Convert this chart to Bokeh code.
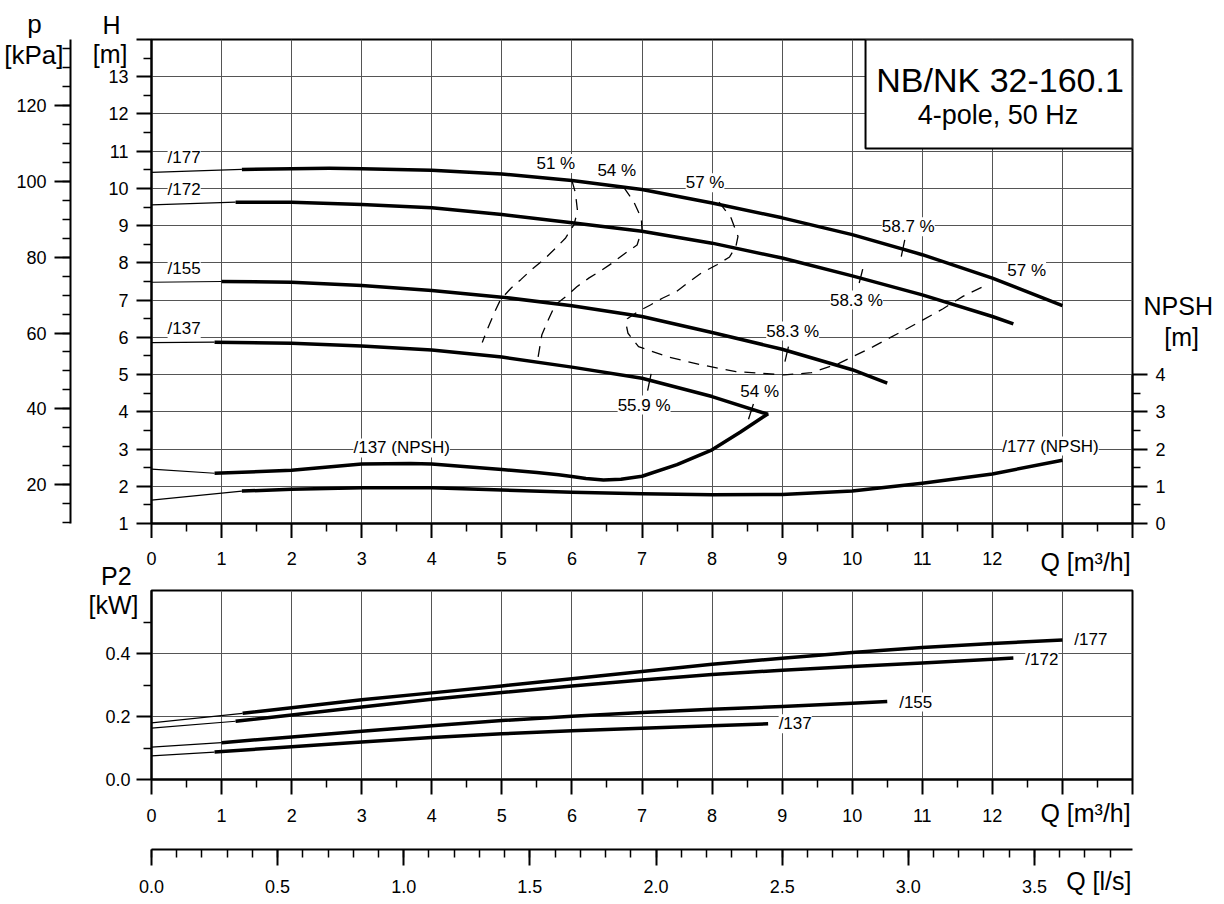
from bokeh.plotting import figure
from bokeh.models import (Range1d, LinearAxis, FixedTicker, ColumnDataSource,
                          LabelSet, Label, PrintfTickFormatter)
from bokeh.layouts import column
from bokeh.embed import file_html
from bokeh.resources import INLINE
from bokeh.core.properties import value

FONT = "Liberation Sans"
NB = "\u00a0"

# ---------------- data ----------------
q_major = list(range(0, 15))
q_minor = [i + 0.5 for i in range(14)]
q_labelled = list(range(0, 13))
h_major = list(range(1, 14))
h_minor = [i + 0.5 for i in range(1, 14)]
H_TOP = 14
KPA_TOP = 137.34
kpa_major = [20, 40, 60, 80, 100, 120]
kpa_minor = list(range(10, 140, 5))
npsh_major = [0, 1, 2, 3, 4]
npsh_minor = [0.5, 1.5, 2.5, 3.5]
P2_TOP = 0.6
p2_major = [0.0, 0.2, 0.4]
p2_minor = [0.1, 0.3, 0.5]
ls_major = [0.0, 0.5, 1.0, 1.5, 2.0, 2.5, 3.0, 3.5]
ls_minor = [i / 10 for i in range(0, 39)]

# Q-H curves (first point = thin extension start at Q=0)
qh177_q = [0, 1.29, 2, 2.54, 3, 4, 5, 6, 7, 8, 9, 10, 11, 12, 13]
qh177_h = [10.43, 10.51, 10.53, 10.54, 10.53, 10.49, 10.39, 10.21, 9.97, 9.61, 9.21, 8.76, 8.22, 7.59, 6.85]
qh172_q = [0, 1.2, 2, 3, 4, 5, 6, 7, 8, 9, 10, 11, 12, 12.3]
qh172_h = [9.56, 9.63, 9.63, 9.57, 9.48, 9.30, 9.08, 8.85, 8.53, 8.13, 7.65, 7.14, 6.56, 6.36]
qh155_q = [0, 1, 2, 3, 4, 5, 6, 7, 8, 9, 10, 10.5]
qh155_h = [7.48, 7.50, 7.48, 7.39, 7.26, 7.08, 6.85, 6.56, 6.13, 5.68, 5.13, 4.77]
qh137_q = [0, 0.9, 2, 3, 4, 5, 6, 7, 8, 8.8]
qh137_h = [5.86, 5.87, 5.84, 5.77, 5.66, 5.47, 5.20, 4.90, 4.41, 3.93]

# NPSH curves
npsh137_q = [0, 0.9, 2, 3, 3.7, 4, 5, 5.5, 5.81, 6.0, 6.2, 6.45, 6.7, 7.0, 7.5, 8, 8.4, 8.8]
npsh137_v = [1.46, 1.35, 1.43, 1.60, 1.61, 1.60, 1.45, 1.37, 1.31, 1.26, 1.21, 1.17, 1.19, 1.27, 1.58, 1.98, 2.45, 2.95]
npsh177_q = [0, 1.29, 2, 3, 4, 5, 6, 7, 8, 9, 10, 11, 12, 13]
npsh177_v = [0.63, 0.87, 0.92, 0.96, 0.96, 0.90, 0.84, 0.80, 0.77, 0.78, 0.87, 1.08, 1.33, 1.70]

# P2 curves
p177_q = [0, 1.3, 2, 3, 4, 5, 6, 7, 8, 9, 10, 11, 12, 13]
p177_v = [0.180, 0.210, 0.228, 0.253, 0.275, 0.297, 0.320, 0.343, 0.366, 0.385, 0.403, 0.419, 0.432, 0.443]
p172_q = [0, 1.2, 2, 3, 4, 5, 6, 7, 8, 9, 10, 11, 12, 12.3]
p172_v = [0.163, 0.185, 0.205, 0.230, 0.255, 0.276, 0.297, 0.316, 0.333, 0.347, 0.359, 0.370, 0.382, 0.386]
p155_q = [0, 1, 2, 3, 4, 5, 6, 7, 8, 9, 10, 10.5]
p155_v = [0.103, 0.117, 0.135, 0.153, 0.171, 0.187, 0.201, 0.213, 0.223, 0.232, 0.242, 0.248]
p137_q = [0, 0.9, 2, 3, 4, 5, 6, 7, 8, 8.8]
p137_v = [0.075, 0.087, 0.104, 0.119, 0.133, 0.145, 0.155, 0.163, 0.171, 0.177]

# efficiency iso-lines
eff51_q = [6.0, 6.05, 6.08, 6.03, 5.91, 5.77, 5.60, 5.43, 5.27, 5.13, 4.98, 4.89, 4.79, 4.72]
eff51_h = [10.21, 9.88, 9.39, 9.03, 8.67, 8.40, 8.09, 7.83, 7.55, 7.32, 7.01, 6.65, 6.20, 5.86]
eff54_q = [6.74, 6.88, 6.99, 7.0, 6.93, 6.79, 6.57, 6.43, 6.24, 6.07, 5.91, 5.76, 5.65, 5.57, 5.51]
eff54_h = [10.03, 9.65, 9.20, 8.89, 8.48, 8.30, 7.99, 7.81, 7.59, 7.36, 7.09, 6.87, 6.42, 6.06, 5.39]
eff57_q = [8.10, 8.27, 8.37, 8.34, 8.25, 8.07, 7.85, 7.68, 7.49, 7.29, 7.12, 6.95, 6.79, 6.77, 6.80,
           6.95, 7.36, 7.85, 8.34, 9.03, 9.42, 9.81, 10.30, 10.80, 11.29, 11.58, 11.92]
eff57_h = [9.63, 9.21, 8.71, 8.44, 8.16, 7.95, 7.73, 7.50, 7.23, 7.05, 6.87, 6.70, 6.50, 6.38, 6.11,
           5.75, 5.48, 5.26, 5.08, 4.99, 5.05, 5.30, 5.75, 6.25, 6.76, 7.10, 7.41]

# best-efficiency tick marks
tick_q0 = [10.75, 10.15, 9.09, 7.13, 8.59]
tick_h0 = [8.62, 7.83, 5.75, 5.02, 4.21]
tick_q1 = [10.70, 10.10, 9.04, 7.08, 8.52]
tick_h1 = [8.17, 7.46, 5.35, 4.57, 3.80]

eff_text = ["51 %", "54 %", "57 %", "58.7 %", "57 %", "58.3 %", "58.3 %", "55.9 %", "54 %"]
eff_text_q = [5.77, 6.64, 7.90, 10.80, 12.49, 10.06, 9.15, 7.03, 8.68]
eff_text_h = [10.67, 10.48, 10.15, 8.97, 7.80, 7.00, 6.17, 4.18, 4.54]

imp_names = ["/177", "/172", "/155", "/137"]
imp_text_q = [0.23, 0.23, 0.23, 0.23]
imp_text_h = [10.82, 9.96, 7.85, 6.24]

npsh_text = ["/137 (NPSH)", "/177 (NPSH)"]
npsh_text_q = [3.57, 12.83]
npsh_text_h = [3.03, 3.08]

p2_text_q = [13.17, 12.47, 10.67, 8.95]
p2_text_v = [0.445, 0.382, 0.246, 0.177]

title_lines = ["NB/NK 32-160.1", "4-pole, 50 Hz"]

# axis titles
h_title = "H" + NB + "\n[m]"
kpa_title = "p" + NB * 3 + "\n[kPa]"
p2_title = "P2" + NB + "\n[kW]"
npsh_title = ["NPSH", NB * 3 + "[m]"]
npsh_title_at = [5.83, 5.02]
q_title = "Q [m\u00b3/h]"
q_title_at = 13.33
ls_title = "Q [l/s]"
ls_title_at = 13.52

KPA_PER_M = 9.81
LS_PER_M3H = 1 / 3.6

# ---------------- helpers ----------------
def style_axis(ax, ticks, minor, standoff, tick_out=15):
    ax.ticker = FixedTicker(ticks=ticks, minor_ticks=minor)
    ax.axis_line_width = 2
    ax.axis_line_color = "black"
    ax.major_tick_line_width = 2
    ax.major_tick_line_color = "black"
    ax.major_tick_out = tick_out
    ax.major_tick_in = 0
    ax.minor_tick_line_width = 1.5
    ax.minor_tick_line_color = "black"
    ax.minor_tick_out = 8
    ax.minor_tick_in = 0
    ax.major_label_text_font = FONT
    ax.major_label_text_font_size = "18px"
    ax.major_label_text_color = "black"
    ax.major_label_standoff = standoff


def spacer_label(ax, size, standoff):
    ax.axis_label = NB
    ax.axis_label_text_font_size = size
    ax.axis_label_standoff = standoff
    ax.axis_label_text_alpha = 0


def title_axis(p, side, ticks, texts, size, standoff, **rng):
    # an axis without line or tick marks, used only to carry label texts
    ax = LinearAxis(ticker=FixedTicker(ticks=ticks, minor_ticks=[]), **rng)
    ax.major_label_overrides = dict(zip(ticks, texts))
    ax.axis_line_color = None
    ax.major_tick_line_color = None
    ax.minor_tick_line_color = None
    ax.major_tick_out = 0
    ax.major_tick_in = 0
    ax.minor_tick_out = 0
    ax.minor_tick_in = 0
    ax.major_label_standoff = standoff
    ax.major_label_text_font = FONT
    ax.major_label_text_font_size = size
    ax.major_label_text_color = "black"
    ax.major_label_text_line_height = 1.05
    p.add_layout(ax, side)
    return ax


def text(p, x, y, t, size, align="center", baseline="alphabetic"):
    p.add_layout(Label(x=x, y=y, text=t, text_font=FONT, text_font_size=size,
                       text_align=align, text_baseline=baseline, text_color="black"))


def curve(p, qs, vs, **kw):
    p.line(qs[:2], vs[:2], line_width=1.2, color="black", **kw)
    p.line(qs[1:], vs[1:], line_width=3.5, color="black", line_join="round", **kw)


GRID = "#555555"

# ---------------- top figure: H / NPSH ----------------
p1 = figure(width=1215, height=538, x_range=Range1d(0, 14), y_range=Range1d(1, H_TOP),
            output_backend="svg", toolbar_location=None,
            min_border_left=151, min_border_right=81, min_border_top=39, min_border_bottom=15)
p1.extra_y_ranges = {"kpa": Range1d(1 * KPA_PER_M, KPA_TOP), "npsh": Range1d(0, 13)}
p1.outline_line_color = "black"
p1.outline_line_width = 2

# bottom Q axis of the upper panel: tick marks only (its numbers sit in the lower figure's top band)
xa = p1.below[0]
style_axis(xa, q_major, q_minor, 0)
xa.major_label_overrides = {q: "" for q in q_major}
xa.major_label_text_font_size = "0px"

ya = p1.left[0]
style_axis(ya, h_major + [H_TOP], h_minor, 8)
ya.major_label_overrides = {H_TOP: ""}
th = title_axis(p1, "left", [H_TOP], [h_title], "25px", -22)
spacer_label(th, "14px", 0)

kpa_axis = LinearAxis(y_range_name="kpa")
style_axis(kpa_axis, kpa_major, kpa_minor, 8, tick_out=16)
p1.add_layout(kpa_axis, "left")
title_axis(p1, "left", [KPA_TOP], [kpa_title], "26px", -50, y_range_name="kpa")

npsh_axis = LinearAxis(y_range_name="npsh", bounds=(0, 4))
style_axis(npsh_axis, npsh_major, npsh_minor, 8)
p1.add_layout(npsh_axis, "right")
title_axis(p1, "right", npsh_title_at, npsh_title, "25px", -25, y_range_name="npsh")

p1.xgrid.ticker = FixedTicker(ticks=q_major)
p1.ygrid.ticker = FixedTicker(ticks=h_major)
for g in (p1.xgrid[0], p1.ygrid[0]):
    g.grid_line_color = GRID
    g.grid_line_width = 1

# title box
p1.quad(left=[10.19], right=[14], bottom=[11.07], top=[14], fill_color="white",
        line_color="black", line_width=2)
text(p1, 12.11, 12.92, title_lines[0], "34px", baseline="middle")
text(p1, 12.08, 11.98, title_lines[1], "27px", baseline="middle")

# efficiency iso-lines
for qs, hs in ((eff51_q, eff51_h), (eff54_q, eff54_h), (eff57_q, eff57_h)):
    p1.line(qs, hs, line_width=1.3, color="black", line_dash="11 8")
p1.segment(x0=tick_q0, y0=tick_h0, x1=tick_q1, y1=tick_h1, line_width=1.3, color="black")

# Q-H curves
for qs, hs in ((qh177_q, qh177_h), (qh172_q, qh172_h), (qh155_q, qh155_h), (qh137_q, qh137_h)):
    curve(p1, qs, hs)
# NPSH curves
for qs, vs in ((npsh137_q, npsh137_v), (npsh177_q, npsh177_v)):
    curve(p1, qs, vs, y_range_name="npsh")

lab_style = dict(text_font=value(FONT), text_font_size=value("17px"), text_color="black",
                 background_fill_color="white", text_baseline="middle")
p1.add_layout(LabelSet(x="x", y="y", text="t", text_align="center",
                       source=ColumnDataSource(dict(x=eff_text_q, y=eff_text_h, t=eff_text)), **lab_style))
p1.add_layout(LabelSet(x="x", y="y", text="t", text_align="left",
                       source=ColumnDataSource(dict(x=imp_text_q, y=imp_text_h, t=imp_names)), **lab_style))
p1.add_layout(LabelSet(x="x", y="y", text="t", text_align="center",
                       source=ColumnDataSource(dict(x=npsh_text_q, y=npsh_text_h, t=npsh_text)), **lab_style))

# ---------------- bottom figure: P2 ----------------
p2 = figure(width=1215, height=359, x_range=p1.x_range, y_range=Range1d(0, P2_TOP),
            output_backend="svg", toolbar_location=None,
            min_border_left=151, min_border_right=81, min_border_top=52, min_border_bottom=117)
p2.extra_x_ranges = {"ls": Range1d(0, 14 * LS_PER_M3H)}
p2.outline_line_color = "black"
p2.outline_line_width = 2

xb = p2.below[0]
yb = p2.left[0]

# numbers and title of the upper panel's Q axis
title_axis(p2, "above", q_labelled, [str(q) for q in q_labelled], "18px", 26)
title_axis(p2, "above", [q_title_at], [q_title], "25px", -27)

style_axis(xb, q_major, q_minor, 14)
xb.major_label_overrides = {13: "", 14: ""}
qt = title_axis(p2, "below", [q_title_at], [q_title], "25px", -26)
spacer_label(qt, "12px", 3)

style_axis(yb, p2_major, p2_minor, 6)
yb.formatter = PrintfTickFormatter(format="%.1f")
title_axis(p2, "left", [P2_TOP], [p2_title], "25px", -36)

ls_axis = LinearAxis(x_range_name="ls")
style_axis(ls_axis, ls_major, ls_minor, 14, tick_out=16)
ls_axis.formatter = PrintfTickFormatter(format="%.1f")
p2.add_layout(ls_axis, "below")
title_axis(p2, "below", [ls_title_at], [ls_title], "25px", -29)

p2.xgrid.ticker = FixedTicker(ticks=q_major)
p2.ygrid.ticker = FixedTicker(ticks=p2_major + [P2_TOP])
for g in (p2.xgrid[0], p2.ygrid[0]):
    g.grid_line_color = GRID
    g.grid_line_width = 1

for qs, vs in ((p177_q, p177_v), (p172_q, p172_v), (p155_q, p155_v), (p137_q, p137_v)):
    curve(p2, qs, vs)

p2.add_layout(LabelSet(x="x", y="y", text="t", text_align="left",
                       source=ColumnDataSource(dict(x=p2_text_q, y=p2_text_v, t=imp_names)), **lab_style))

layout = column(p1, p2)
open("out.html", "w").write(file_html(layout, INLINE))
